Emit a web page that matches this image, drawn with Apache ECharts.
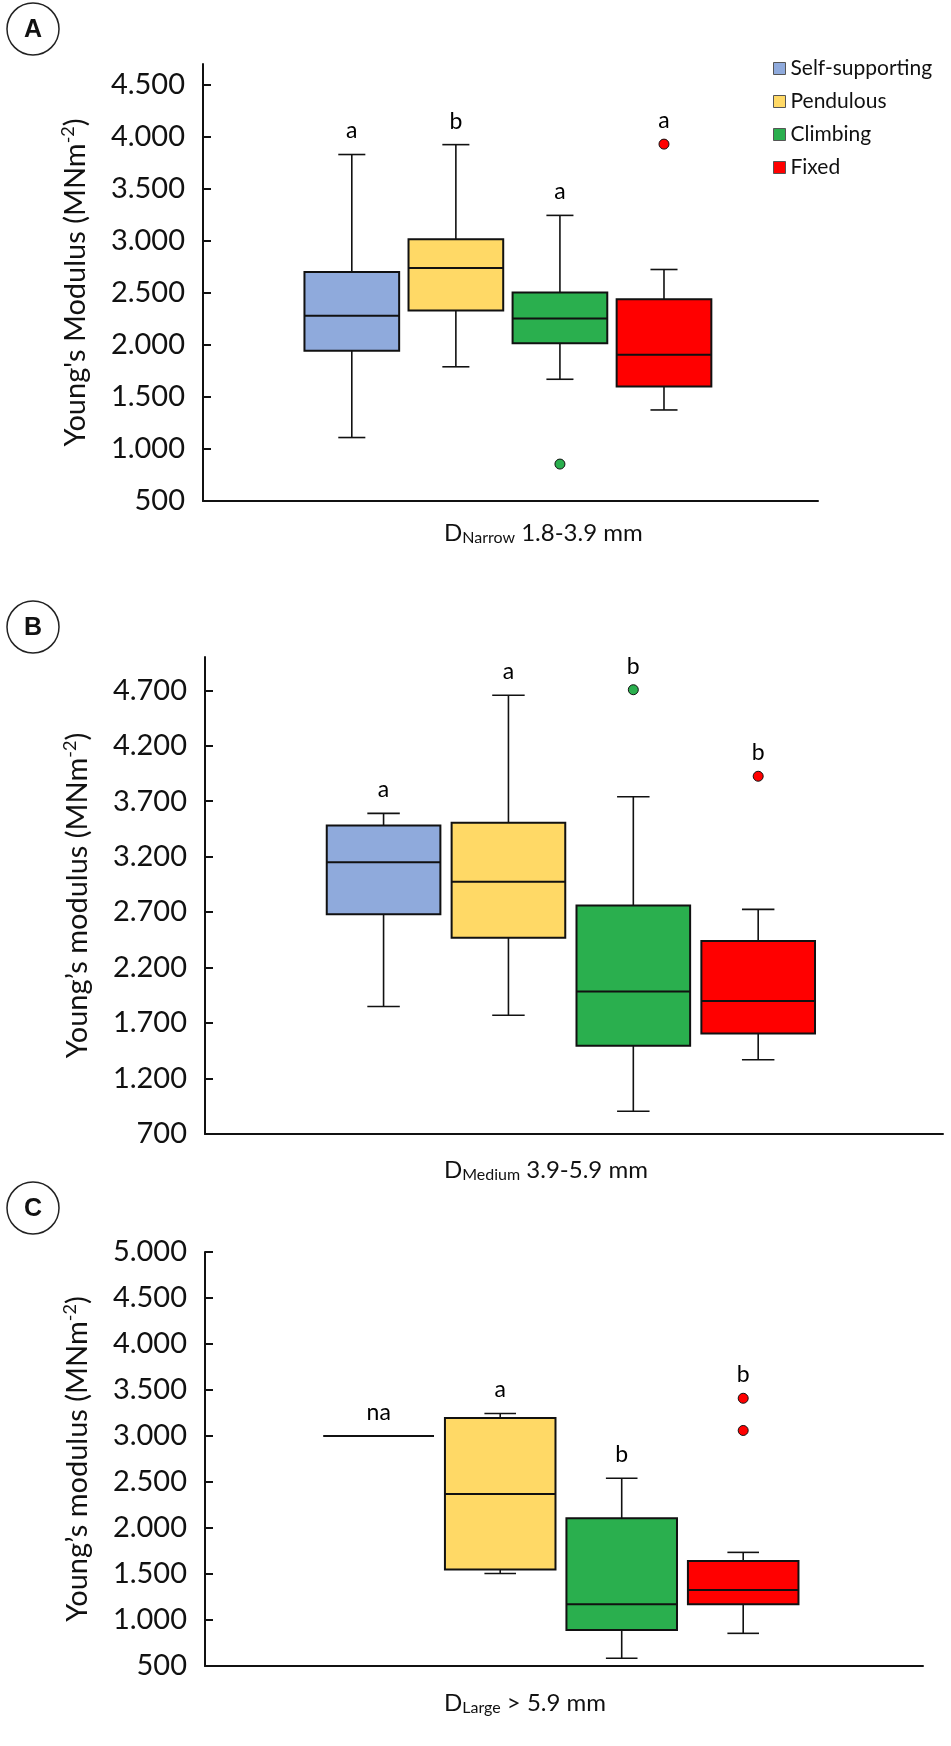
<!DOCTYPE html>
<html>
<head>
<meta charset="utf-8">
<title>Young's modulus by growth form</title>
<script src="https://cdn.jsdelivr.net/npm/echarts@6/dist/echarts.min.js"></script>
<style>
html, body { margin: 0; padding: 0; background: #fff; }
#main { width: 951px; height: 1746px; }
</style>
</head>
<body>
<div id="main"></div>
<script>
var groups = ['Self-supporting', 'Pendulous', 'Climbing', 'Fixed'];

// box stats per group: [min, Q1, median, Q3, max]
var narrowStats = [
	[1110, 1945, 2280, 2700, 3830],
	[1790, 2330, 2740, 3015, 3925],
	[1670, 2015, 2255, 2505, 3245],
	[1375, 1600, 1905, 2440, 2725]
];
var narrowOutliers = [[], [], [855], [3930]];
var narrowLetters = ['a', 'b', 'a', 'a'];
var narrowTicks = [500, 1000, 1500, 2000, 2500, 3000, 3500, 4000, 4500];

var mediumStats = [
	[1850, 2680, 3150, 3480, 3590],
	[1770, 2470, 2975, 3505, 4655],
	[905, 1495, 1985, 2760, 3740],
	[1370, 1605, 1900, 2440, 2725]
];
var mediumOutliers = [[], [], [4705], [3925]];
var mediumLetters = ['a', 'a', 'b', 'b'];
var mediumTicks = [700, 1200, 1700, 2200, 2700, 3200, 3700, 4200, 4700];

var largeStats = [
	[3000, 3000, 3000, 3000, 3000],
	[1505, 1550, 2370, 3195, 3245],
	[585, 890, 1170, 2105, 2540],
	[855, 1170, 1325, 1640, 1735]
];
var largeOutliers = [[], [], [], [3410, 3060]];
var largeLetters = ['na', 'a', 'b', 'b'];
var largeTicks = [500, 1000, 1500, 2000, 2500, 3000, 3500, 4000, 4500, 5000];

var colors = ['#8FAADC', '#FFD966', '#2AAF4E', '#FF0000'];
var ink = '#111';
var font = 'Lato';

var panels = [
	{ stats: narrowStats, outliers: narrowOutliers, letters: narrowLetters, ticks: narrowTicks,
	  min: 500, max: 4700, grid: { left: 203, top: 64, width: 615, height: 437 },
	  yName: "Young's Modulus (MNm", sub: 'Narrow', range: ' 1.8-3.9 mm', labelTop: 521, tag: 'A', tagY: 29 },
	{ stats: mediumStats, outliers: mediumOutliers, letters: mediumLetters, ticks: mediumTicks,
	  min: 700, max: 5000, grid: { left: 205, top: 657, width: 738, height: 477 },
	  yName: 'Young\u2019s modulus (MNm', sub: 'Medium', range: ' 3.9-5.9 mm', labelTop: 1158, tag: 'B', tagY: 627 },
	{ stats: largeStats, outliers: largeOutliers, letters: largeLetters, ticks: largeTicks,
	  min: 500, max: 5000, grid: { left: 205, top: 1252, width: 718, height: 414 },
	  yName: 'Young\u2019s modulus (MNm', sub: 'Large', range: ' > 5.9 mm', labelTop: 1691, tag: 'C', tagY: 1208 }
];

function fmt(v) {
	var s = String(v);
	return v >= 1000 ? s.slice(0, s.length - 3) + '.' + s.slice(-3) : s;
}

function renderBox(params, api) {
	var x = api.value(0);
	var lo = api.coord([x, api.value(1)]),
		q1 = api.coord([x, api.value(2)]),
		md = api.coord([x, api.value(3)]),
		q3 = api.coord([x, api.value(4)]),
		hi = api.coord([x, api.value(5)]);
	var half = api.size([0.91, 0])[0] / 2,
		cap = api.size([0.26, 0])[0] / 2,
		cx = md[0];
	var whisker = { stroke: ink, lineWidth: 1.6 };
	return {
		type: 'group',
		children: [
			{ type: 'line', shape: { x1: cx, y1: lo[1], x2: cx, y2: q1[1] }, style: whisker },
			{ type: 'line', shape: { x1: cx, y1: q3[1], x2: cx, y2: hi[1] }, style: whisker },
			{ type: 'line', shape: { x1: cx - cap, y1: lo[1], x2: cx + cap, y2: lo[1] }, style: whisker },
			{ type: 'line', shape: { x1: cx - cap, y1: hi[1], x2: cx + cap, y2: hi[1] }, style: whisker },
			{ type: 'rect', shape: { x: cx - half, y: q3[1], width: half * 2, height: q1[1] - q3[1] },
			  style: { fill: api.visual('color'), stroke: ink, lineWidth: 2 } },
			{ type: 'line', shape: { x1: cx - half, y1: md[1], x2: cx + half, y2: md[1] },
			  style: { stroke: ink, lineWidth: 2 } }
		]
	};
}

var grids = [], xAxes = [], yAxes = [], series = [], graphics = [];

panels.forEach(function (p, k) {
	grids.push({ left: p.grid.left, top: p.grid.top, width: p.grid.width, height: p.grid.height, outerBoundsMode: 'none' });
	xAxes.push({
		type: 'value', gridIndex: k, min: -0.43, max: 5.48,
		axisLine: { onZero: false, lineStyle: { color: ink, width: 2 } },
		axisTick: { show: false }, axisLabel: { show: false }, splitLine: { show: false }
	});
	yAxes.push({
		type: 'value', gridIndex: k, min: p.min, max: p.max,
		axisLine: { show: true, onZero: false, lineStyle: { color: ink, width: 2 } },
		axisTick: { inside: true, length: 8, customValues: p.ticks, lineStyle: { color: ink, width: 2 } },
		axisLabel: { customValues: p.ticks, formatter: fmt, margin: 18, color: ink, fontFamily: font, fontSize: 29 },
		splitLine: { show: false },
		name: '{n|' + p.yName + '}{p|-2}{n|)}',
		nameLocation: 'middle',
		nameGap: 110,
		nameTextStyle: {
			rich: {
				n: { fontFamily: font, fontSize: 29, lineHeight: 34, color: ink },
				p: { fontFamily: font, fontSize: 18, lineHeight: 18, color: ink, verticalAlign: 'top' }
			}
		}
	});

	var letterData = [], outlierData = [];
	p.stats.forEach(function (st, i) {
		series.push({
			type: 'custom', name: groups[i], xAxisIndex: k, yAxisIndex: k,
			renderItem: renderBox,
			itemStyle: { color: colors[i] },
			encode: { x: 0, y: [1, 2, 3, 4, 5] },
			data: [[i + 1].concat(st)]
		});
		var top = st[4];
		p.outliers[i].forEach(function (v) {
			outlierData.push({ value: [i + 1, v], itemStyle: { color: colors[i] } });
			top = Math.max(top, v);
		});
		letterData.push({ value: [i + 1, top], label: { formatter: p.letters[i] } });
	});
	series.push({
		type: 'scatter', name: 'outliers', xAxisIndex: k, yAxisIndex: k,
		symbolSize: 10, itemStyle: { borderColor: ink, borderWidth: 1, opacity: 1 },
		data: outlierData, z: 5
	});
	series.push({
		type: 'scatter', name: 'letters', xAxisIndex: k, yAxisIndex: k,
		symbolSize: 0, silent: true, itemStyle: { opacity: 1 },
		label: { show: true, position: 'top', distance: 12, color: '#000', fontFamily: font, fontSize: 23 },
		data: letterData
	});

	graphics.push({
		type: 'text', left: 444, top: p.labelTop,
		style: {
			text: '{m|D}{s|' + p.sub + '}{m|' + p.range + '}',
			rich: {
				m: { fontFamily: font, fontSize: 24, lineHeight: 25, fill: ink },
				s: { fontFamily: font, fontSize: 16, lineHeight: 11, verticalAlign: 'bottom', fill: ink }
			}
		}
	});
	graphics.push({
		type: 'circle', shape: { cx: 33, cy: p.tagY, r: 26 },
		style: { fill: '#fff', stroke: '#222', lineWidth: 1.5 }
	});
	graphics.push({
		type: 'text', x: 33, y: p.tagY + 1,
		style: { text: p.tag, fontFamily: 'Liberation Sans', fontWeight: 'bold', fontSize: 25,
			fill: ink, align: 'center', verticalAlign: 'middle' }
	});
});

var chart = echarts.init(document.getElementById('main'));
chart.setOption({
	animation: false,
	backgroundColor: '#fff',
	legend: {
		data: groups, orient: 'vertical', left: 773, top: 58, padding: 0,
		itemWidth: 12, itemHeight: 12, itemGap: 12, icon: 'rect', selectedMode: false,
		itemStyle: { borderColor: '#555', borderWidth: 1 },
		textStyle: { fontFamily: font, fontSize: 21, lineHeight: 21, color: ink }
	},
	grid: grids,
	xAxis: xAxes,
	yAxis: yAxes,
	series: series,
	graphic: graphics
});
</script>
</body>
</html>
